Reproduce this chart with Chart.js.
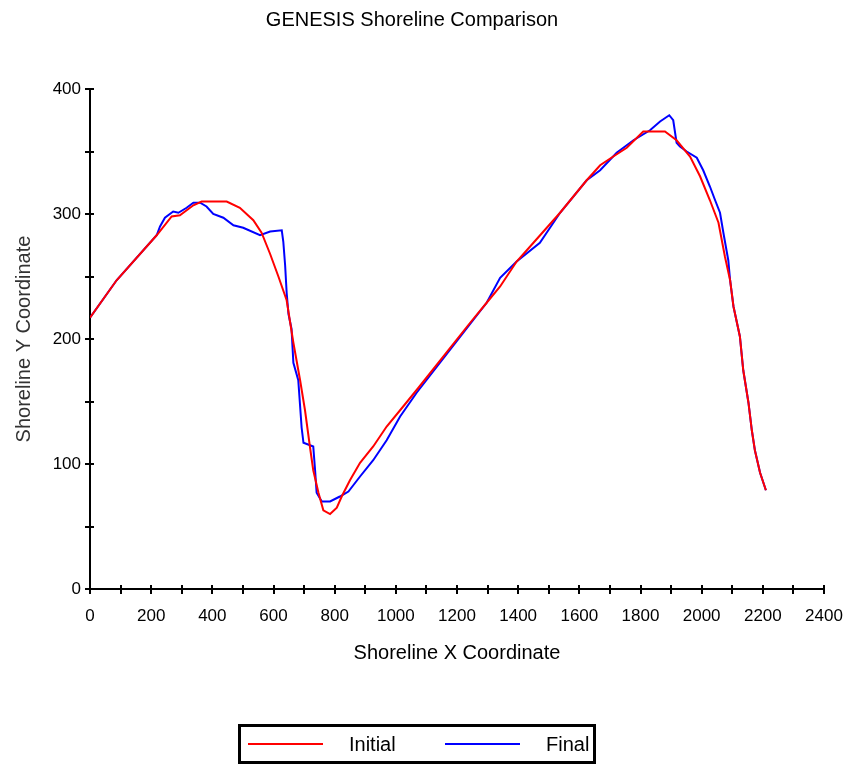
<!DOCTYPE html>
<html>
<head>
<meta charset="utf-8">
<script src="https://cdn.jsdelivr.net/npm/chart.js@4/dist/chart.umd.min.js"></script>
<style>
  body { margin: 0; background: #fff; }
  #wrap { position: relative; width: 849px; height: 765px; }
  #legend {
    position: absolute; left: 238px; top: 724px; width: 358px; height: 40px;
    box-sizing: border-box; border: 3px solid #000; display: flex; align-items: center;
    font-family: "Liberation Sans", Arial, sans-serif; font-size: 20px; color: #000;
  }
  #legend .item { display: flex; align-items: center; width: 197px; flex: none; }
  #legend .item:last-child { width: auto; }
  #legend .swatch { margin-left: 7px; width: 75px; height: 2px; margin-right: 26px; }
</style>
</head>
<body>
<div id="wrap">
  <canvas id="chart" width="849" height="765"></canvas>
  <div id="legend"></div>
</div>
<script>
const chartTitle = 'GENESIS Shoreline Comparison'
const xTitle = 'Shoreline X Coordinate'
const yTitle = 'Shoreline Y Coordinate'
const seriesNames = ['Initial', 'Final']

const initialX = [0, 87, 218, 267, 294, 338, 365, 447, 490, 534, 561, 589, 616, 643, 665, 687, 703, 719, 730, 747, 763, 785, 807, 823, 850, 883, 926, 970, 1024, 1074, 1243, 1297, 1341, 1395, 1450, 1537, 1624, 1668, 1711, 1755, 1809, 1880, 1918, 1962, 1995, 2027, 2055, 2076, 2093, 2104, 2125, 2136, 2153, 2164, 2174, 2191, 2210]
const initialY = [217, 247, 283, 298, 299, 307, 310, 310, 305, 295, 285, 268, 250, 231, 197, 167, 143, 114, 95, 77, 63, 60, 65, 74, 87, 101, 114, 130, 146, 161, 213, 229, 242, 262, 277, 301, 327, 339, 346, 353, 366, 366, 359, 346, 330, 311, 293, 266, 247, 226, 202, 175, 149, 127, 111, 93, 79]

const finalX = [0, 87, 218, 229, 245, 272, 289, 316, 338, 360, 381, 403, 436, 469, 501, 556, 589, 627, 632, 638, 643, 649, 659, 665, 681, 692, 698, 730, 736, 741, 758, 785, 817, 845, 883, 926, 970, 1014, 1068, 1243, 1297, 1341, 1395, 1471, 1537, 1624, 1668, 1722, 1777, 1831, 1864, 1894, 1907, 1918, 1929, 1951, 1984, 2005, 2027, 2044, 2060, 2071, 2087, 2093, 2104, 2125, 2136, 2153, 2164, 2174, 2191, 2210]
const finalY = [217, 247, 283, 290, 297, 302, 301, 305, 309, 309, 306, 300, 297, 291, 289, 283, 286, 287, 278, 259, 237, 220, 208, 181, 167, 129, 117, 114, 95, 77, 70, 70, 74, 78, 90, 103, 119, 138, 157, 212, 229, 249, 262, 277, 301, 327, 335, 349, 359, 367, 374, 379, 375, 357, 354, 350, 345, 335, 322, 311, 301, 285, 263, 247, 226, 202, 175, 149, 127, 111, 93, 79]

const xRange = [0, 2400, 100]
const yRange = [0, 400, 50]

const pair = (xs, ys) => xs.map((x, i) => ({ x: x, y: ys[i] }))
const font = 'Liberation Sans, Arial, sans-serif'

// crossing tick marks on both axes, placed by the scales themselves
const crossTicks = {
  id: 'crossTicks',
  afterDraw(chart) {
    const ctx = chart.ctx
    const xs = chart.scales.x, ys = chart.scales.y
    const area = chart.chartArea
    ctx.save()
    ctx.strokeStyle = '#000'
    ctx.lineWidth = 2
    ctx.beginPath()
    xs.ticks.forEach(t => {
      const px = Math.round(xs.getPixelForValue(t.value))
      ctx.moveTo(px, area.bottom - 4)
      ctx.lineTo(px, area.bottom + 5)
    })
    ys.ticks.forEach(t => {
      const py = Math.round(ys.getPixelForValue(t.value))
      ctx.moveTo(area.left - 5, py)
      ctx.lineTo(area.left + 4, py)
    })
    ctx.stroke()
    ctx.restore()
  }
}

const chart = new Chart(document.getElementById('chart'), {
  type: 'line',
  data: {
    datasets: [
      { label: seriesNames[0], data: pair(initialX, initialY), borderColor: '#ff0000', borderWidth: 2 },
      { label: seriesNames[1], data: pair(finalX, finalY), borderColor: '#0000ff', borderWidth: 2 }
    ]
  },
  options: {
    responsive: false,
    animation: false,
    events: [],
    elements: { point: { radius: 0 }, line: { tension: 0 } },
    layout: { padding: { left: 0, right: 25, top: 0, bottom: 86 } },
    plugins: {
      legend: { display: false },
      tooltip: { enabled: false },
      title: {
        display: true,
        text: chartTitle,
        color: '#000',
        font: { family: font, size: 20, weight: 'normal' },
        padding: { top: 8, bottom: 57 }
      }
    },
    scales: {
      x: {
        type: 'linear',
        min: xRange[0], max: xRange[1],
        grid: { display: false, drawTicks: false },
        border: { display: true, color: '#000', width: 2 },
        ticks: {
          stepSize: xRange[2], autoSkip: false, maxRotation: 0, padding: 17,
          color: '#000', font: { family: font, size: 17 },
          callback: v => v % 200 === 0 ? v : ''
        },
        title: {
          display: true, text: xTitle, color: '#000',
          font: { family: font, size: 20 }, padding: { top: 0, bottom: 14 }
        },
        afterFit: scale => {
          scale.height = 90
          scale.paddingLeft = 0
          scale.paddingRight = 0
        }
      },
      y: {
        min: yRange[0], max: yRange[1],
        grid: { display: false, drawTicks: false },
        border: { display: true, color: '#000', width: 2 },
        ticks: {
          stepSize: yRange[2], autoSkip: false, padding: 9,
          color: '#000', font: { family: font, size: 17 },
          callback: v => v % 100 === 0 ? v : ''
        },
        title: {
          display: true, text: yTitle, color: '#333',
          font: { family: font, size: 20 }, padding: { top: 12, bottom: 0 }
        },
        afterFit: scale => {
          scale.width = 90
          scale.paddingTop = 0
          scale.paddingBottom = 0
        }
      }
    }
  },
  plugins: [crossTicks]
})

// legend box under the chart, built from the datasets
const legend = document.getElementById('legend')
chart.data.datasets.forEach(ds => {
  const item = document.createElement('div')
  item.className = 'item'
  item.innerHTML = `<span class="swatch" style="background:${ds.borderColor}"></span><span>${ds.label}</span>`
  legend.appendChild(item)
})
</script>
</body>
</html>
